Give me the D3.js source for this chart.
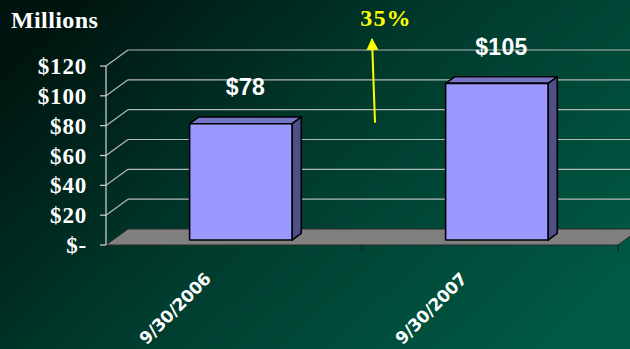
<!DOCTYPE html>
<html>
<head>
<meta charset="utf-8">
<script src="https://cdn.jsdelivr.net/npm/d3@7"></script>
<style>
  body { margin: 0; background: #00261d; }
  svg { display: block; }
</style>
</head>
<body>
<script>
// data
var categories = ["9/30/2006", "9/30/2007"];
var values = [78, 105];
var yTicks = [0, 20, 40, 60, 80, 100, 120];
var growthLabel = "35%";

var W = 630, H = 349;
var plot = {left: 106, right: 618, top: 66, bottom: 245};
var depth = {dx: 22, dy: -16};        // 3d offset of back wall
var barZ = [0.31, 0.73];              // bar front/back as fraction of depth

var svg = d3.select("body").append("svg")
    .attr("width", W)
    .attr("height", H);

var defs = svg.append("defs");
var grad = defs.append("linearGradient")
    .attr("id", "bg")
    .attr("x1", 0).attr("y1", 0.2)
    .attr("x2", 1).attr("y2", 0.8);
grad.append("stop").attr("offset", "0%").attr("stop-color", "#00140f");
grad.append("stop").attr("offset", "45%").attr("stop-color", "#003a2d");
grad.append("stop").attr("offset", "100%").attr("stop-color", "#005a44");

svg.append("rect")
    .attr("width", W).attr("height", H)
    .attr("fill", "url(#bg)");

var x = d3.scaleBand()
    .domain(categories)
    .range([plot.left, plot.right])
    .paddingInner(0.6)
    .paddingOuter(0.3);

var y = d3.scaleLinear()
    .domain([0, 120])
    .range([plot.bottom, plot.top]);

function px(xv, z) { return xv + depth.dx * z; }
function py(yv, z) { return yv + depth.dy * z; }

// gridlines on back wall + left wall
var grid = svg.append("g").attr("class", "grid");
yTicks.filter(function (d) { return d > 0; }).forEach(function (d) {
  grid.append("line")
      .attr("x1", px(plot.left, 1)).attr("y1", py(y(d), 1))
      .attr("x2", px(plot.right, 1)).attr("y2", py(y(d), 1));
  grid.append("line")
      .attr("x1", plot.left).attr("y1", y(d))
      .attr("x2", px(plot.left, 1)).attr("y2", py(y(d), 1));
});
grid.selectAll("line")
    .attr("stroke", "#b4b8b6")
    .attr("stroke-width", 1.2);

// floor
var floorPts = [
  [plot.left, plot.bottom],
  [plot.right, plot.bottom],
  [px(plot.right, 1), py(plot.bottom, 1)],
  [px(plot.left, 1), py(plot.bottom, 1)]
];
svg.append("path")
    .attr("d", "M" + floorPts.join("L") + "Z")
    .attr("fill", "#808080")
    .attr("stroke", "#2a2a2a")
    .attr("stroke-width", 1);

// category ticks under the floor
var step = x.step();
svg.append("g").selectAll("line")
    .data(d3.range(categories.length + 1))
    .enter().append("line")
    .attr("x1", function (i) { return plot.left + i * step; })
    .attr("x2", function (i) { return plot.left + i * step; })
    .attr("y1", plot.bottom)
    .attr("y2", plot.bottom + 6)
    .attr("stroke", "#1a1a1a")
    .attr("stroke-width", 1.2);

// value axis
var yAxis = svg.append("g");
yAxis.append("line")
    .attr("x1", plot.left).attr("x2", plot.left)
    .attr("y1", y(120)).attr("y2", y(0))
    .attr("stroke", "#d8d8d8").attr("stroke-width", 1.2);
yAxis.selectAll(".tick")
    .data(yTicks)
    .enter().append("line")
    .attr("x1", plot.left - 6).attr("x2", plot.left)
    .attr("y1", function (d) { return y(d); })
    .attr("y2", function (d) { return y(d); })
    .attr("stroke", "#d8d8d8").attr("stroke-width", 1.2);
yAxis.selectAll("text")
    .data(yTicks)
    .enter().append("text")
    .attr("x", 87)
    .attr("y", function (d) { return y(d) + 8; })
    .attr("text-anchor", "end")
    .style("font-family", "'Liberation Serif', 'Times New Roman', serif")
    .style("font-weight", "bold")
    .style("font-size", "23px")
    .style("letter-spacing", "0.8px")
    .attr("fill", "#ffffff")
    .text(function (d) { return d === 0 ? "$-" : "$" + d; });

svg.append("text")
    .attr("x", 11).attr("y", 28)
    .style("font-family", "'Liberation Serif', 'Times New Roman', serif")
    .style("font-weight", "bold")
    .style("font-size", "24px")
    .style("letter-spacing", "0.4px")
    .attr("fill", "#ffffff")
    .text("Millions");

// bars
var bars = svg.append("g").selectAll(".bar")
    .data(values)
    .enter().append("g")
    .attr("class", "bar");

function barGeom(d, i) {
  var x0 = x(categories[i]), x1 = x0 + x.bandwidth();
  var z0 = barZ[0], z1 = barZ[1];
  return {
    fl: px(x0, z0), fr: px(x1, z0), ft: py(y(d), z0), fb: py(y(0), z0),
    bl: px(x0, z1), br: px(x1, z1), bt: py(y(d), z1), bb: py(y(0), z1)
  };
}

bars.append("path")   // side
    .attr("d", function (d, i) {
      var g = barGeom(d, i);
      return "M" + g.fr + "," + g.ft + "L" + g.br + "," + g.bt +
             "L" + g.br + "," + g.bb + "L" + g.fr + "," + g.fb + "Z";
    })
    .attr("fill", "#4f4f8a");
bars.append("path")   // top
    .attr("d", function (d, i) {
      var g = barGeom(d, i);
      return "M" + g.fl + "," + g.ft + "L" + g.bl + "," + g.bt +
             "L" + g.br + "," + g.bt + "L" + g.fr + "," + g.ft + "Z";
    })
    .attr("fill", "#7676c6");
bars.append("path")   // front
    .attr("d", function (d, i) {
      var g = barGeom(d, i);
      return "M" + g.fl + "," + g.ft + "L" + g.fr + "," + g.ft +
             "L" + g.fr + "," + g.fb + "L" + g.fl + "," + g.fb + "Z";
    })
    .attr("fill", "#9999ff");
bars.selectAll("path")
    .attr("stroke", "#000")
    .attr("stroke-width", 1.6)
    .attr("stroke-linejoin", "round");

// value labels
bars.append("text")
    .attr("x", function (d, i) { var g = barGeom(d, i); return (g.fl + g.br) / 2; })
    .attr("y", function (d, i) { return barGeom(d, i).bt - 22; })
    .attr("text-anchor", "middle")
    .style("font-family", "'Liberation Sans', Arial, sans-serif")
    .style("font-weight", "bold")
    .style("font-size", "23px")
    .style("letter-spacing", "0.3px")
    .attr("fill", "#ffffff")
    .text(function (d) { return "$" + d; });

// category labels
svg.append("g").selectAll("text")
    .data(categories)
    .enter().append("text")
    .attr("transform", function (d) {
      return "translate(" + (x(d) + x.bandwidth() / 2 - 22) + "," + 280 + ") rotate(-45)";
    })
    .attr("text-anchor", "end")
    .style("font-family", "'DejaVu Sans', Tahoma, sans-serif")
    .style("font-weight", "bold")
    .style("font-size", "17px")
    .style("letter-spacing", "-0.3px")
    .attr("fill", "#ffffff")
    .text(function (d) { return d; });

// growth arrow
defs.append("marker")
    .attr("id", "arrow")
    .attr("viewBox", "0 0 10 10")
    .attr("refX", 9).attr("refY", 5)
    .attr("markerWidth", 6).attr("markerHeight", 6)
    .attr("orient", "auto")
    .append("path")
    .attr("d", "M0,0L10,5L0,10Z")
    .attr("fill", "#ffff00");

var midX = plot.left + step;
svg.append("line")
    .attr("x1", midX + 13).attr("y1", y(82))
    .attr("x2", midX + 10).attr("y2", y(138))
    .attr("stroke", "#ffff00")
    .attr("stroke-width", 2)
    .attr("marker-end", "url(#arrow)");

svg.append("text")
    .attr("x", midX + 24).attr("y", 26)
    .attr("text-anchor", "middle")
    .style("font-family", "'Liberation Serif', 'Times New Roman', serif")
    .style("font-weight", "bold")
    .style("font-size", "24px")
    .style("letter-spacing", "1.2px")
    .attr("fill", "#ffff00")
    .text(growthLabel);
</script>
</body>
</html>
